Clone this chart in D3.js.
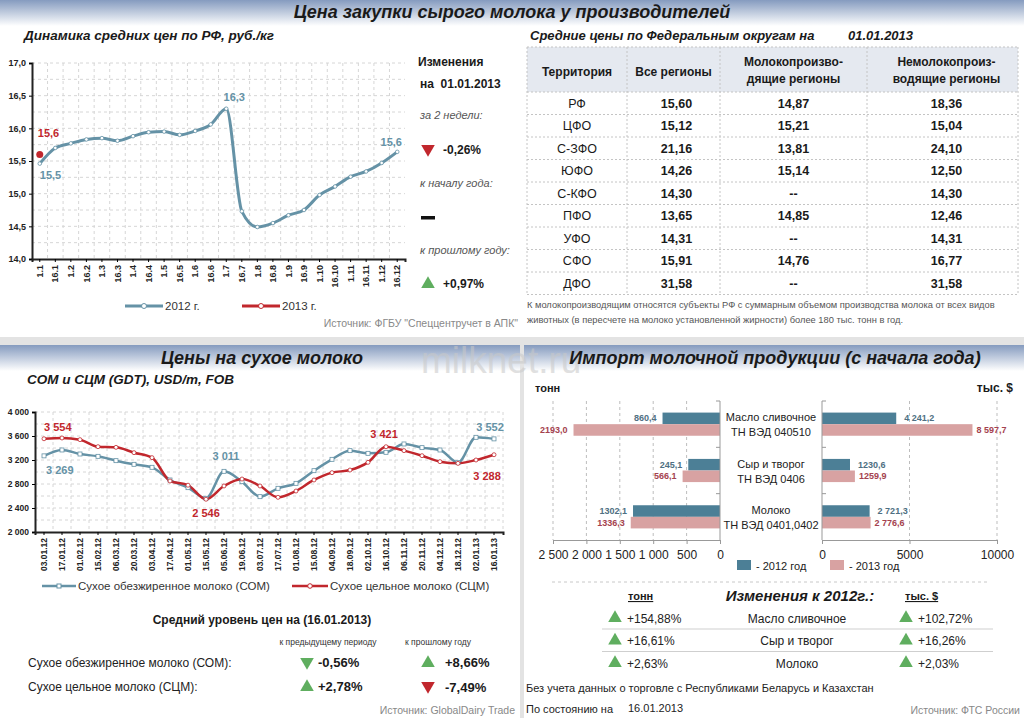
<!DOCTYPE html>
<html>
<head>
<meta charset="utf-8">
<script src="https://cdn.jsdelivr.net/npm/d3@7"></script>
<style>
  body { margin: 0; background: #fff; }
  svg text { font-family: "Liberation Sans", Arial, sans-serif; }
</style>
</head>
<body>
<div id="chart"></div>
<script>
// ===== DATA =====
// raw milk purchase price, RF average, rub/kg
const priceDates = ["1.1","16.1","1.2","16.2","1.3","16.3","1.4","16.4","1.5","16.5","1.6","16.6",
  "1.7","16.7","1.8","16.8","1.9","16.9","1.10","16.10","1.11","16.11","1.12","16.12"];
const price2012 = [15.46, 15.70, 15.77, 15.83, 15.85, 15.81, 15.88, 15.94, 15.95, 15.90, 15.96, 16.06,
  16.30, 14.73, 14.49, 14.55, 14.67, 14.75, 14.98, 15.11, 15.26, 15.34, 15.47, 15.64];
const price2013 = [15.6];
const priceTicks = [14.0, 14.5, 15.0, 15.5, 16.0, 16.5, 17.0];

// federal districts table
const districts = ["РФ","ЦФО","С-ЗФО","ЮФО","С-КФО","ПФО","УФО","СФО","ДФО"];
const allRegions = ["15,60","15,12","21,16","14,26","14,30","13,65","14,31","15,91","31,58"];
const milkRegions = ["14,87","15,21","13,81","15,14","--","14,85","--","14,76","--"];
const nonMilkRegions = ["18,36","15,04","24,10","12,50","14,30","12,46","14,31","16,77","31,58"];

// dry milk prices GDT, USD/t
const gdtDates = ["03.01.12","17.01.12","01.02.12","15.02.12","06.03.12","20.03.12","03.04.12","17.04.12",
  "01.05.12","15.05.12","05.06.12","19.06.12","03.07.12","17.07.12","01.08.12","15.08.12","04.09.12",
  "18.09.12","02.10.12","16.10.12","06.11.12","20.11.12","04.12.12","18.12.12","02.01.13","16.01.13"];
const somValues = [3269, 3367, 3300, 3261, 3189, 3128, 3078, 2867, 2739, 2561, 3011, 2839, 2589,
  2728, 2811, 3022, 3211, 3356, 3311, 3328, 3467, 3406, 3367, 3156, 3578, 3552];
const scmValues = [3554, 3567, 3539, 3422, 3411, 3322, 3239, 2850, 2780, 2546, 2767, 2883, 2767,
  2578, 2683, 2867, 2989, 3033, 3161, 3421, 3356, 3272, 3172, 3144, 3200, 3288];
const gdtTicks = [2000, 2400, 2800, 3200, 3600, 4000];

// dairy import since start of year
const importNames = ["Масло сливочное", "Сыр и творог", "Молоко"];
const importCodes = ["ТН ВЭД 040510", "ТН ВЭД 0406", "ТН ВЭД 0401,0402"];
const tons2012 = [860.4, 475, 1302.1];
const tons2013 = [2193.0, 560, 1336.3];
const usd2012 = [4241.2, 1600, 2721.3];
const usd2013 = [8597.7, 1880, 2776.6];
const tons2012Labels = ["860,4", "245,1", "1302,1"];
const tons2013Labels = ["2193,0", "566,1", "1336,3"];
const usd2012Labels = ["4 241,2", "1230,6", "2 721,3"];
const usd2013Labels = ["8 597,7", "1259,9", "2 776,6"];
const tonsTicks = [0, 500, 1000, 1500, 2000, 2500];
const usdTicks = [0, 5000, 10000];
const tonsChange = ["+154,88%", "+16,61%", "+2,63%"];
const usdChange = ["+102,72%", "+16,26%", "+2,03%"];

// ===== SETUP =====
const W = 1024, H = 718;
const BLUE = "#6592a6", RED = "#c1272d", GREEN = "#5fae5f";
const BAR_BLUE = "#4c7f96", BAR_PINK = "#d8a2a2";
const ru = d3.formatLocale({ decimal: ",", thousands: " ", grouping: [3], currency: ["", ""] });

const svg = d3.select("#chart").append("svg")
  .attr("width", W)
  .attr("height", H);

function txt(g, x, y, s, o = {}) {
  const t = g.append("text")
    .attr("x", x).attr("y", y)
    .text(s)
    .style("font-size", (o.size || 12) + "px")
    .style("fill", o.color || "#1a1a1a");
  if (o.bold) t.style("font-weight", "bold");
  if (o.italic) t.style("font-style", "italic");
  if (o.anchor) t.attr("text-anchor", o.anchor);
  return t;
}

function tri(g, x, y, up, color) {
  g.append("path")
    .attr("d", d3.symbol(d3.symbolTriangle, 80)())
    .attr("transform", `translate(${x},${y}) rotate(${up ? 0 : 180})`)
    .attr("fill", color);
}

// background bands
const defs = svg.append("defs");
const grad = defs.append("linearGradient")
  .attr("id", "band").attr("x1", 0).attr("y1", 0).attr("x2", 0).attr("y2", 1);
grad.append("stop").attr("offset", "0%").attr("stop-color", "#859bbf");
grad.append("stop").attr("offset", "100%").attr("stop-color", "#ffffff");

svg.append("rect").attr("x", 0).attr("y", 0).attr("width", W).attr("height", 26).attr("fill", "url(#band)");
svg.append("rect").attr("x", 0).attr("y", 337).attr("width", W).attr("height", 8).attr("fill", "#e3e3e3");
svg.append("rect").attr("x", 520).attr("y", 337).attr("width", 4).attr("height", H - 337).attr("fill", "#e3e3e3");
svg.append("rect").attr("x", 0).attr("y", 345).attr("width", 520).attr("height", 26).attr("fill", "url(#band)");
svg.append("rect").attr("x", 524).attr("y", 345).attr("width", 500).attr("height", 26).attr("fill", "url(#band)");

txt(svg, 512, 18, "Цена закупки сырого молока у производителей", { size: 18, bold: true, italic: true, anchor: "middle" });

// ===== TOP LEFT: PRICE LINE =====
const topG = svg.append("g");
txt(topG, 24, 40, "Динамика средних цен по РФ, руб./кг", { size: 13.5, bold: true, italic: true });

const xP = d3.scaleBand().domain(priceDates).range([32, 405]);
const yP = d3.scaleLinear().domain([14, 17]).range([259, 63]);
const cx = d => xP(d) + xP.bandwidth() / 2;

// grid
topG.append("g").selectAll("line")
  .data(d3.range(14.25, 17.01, 0.25))
  .enter().append("line")
  .attr("x1", 32).attr("x2", 405)
  .attr("y1", d => yP(d)).attr("y2", d => yP(d))
  .attr("stroke", "#d6d6d6").attr("stroke-dasharray", "3,3");
topG.append("g").selectAll("line")
  .data(priceDates.slice(1))
  .enter().append("line")
  .attr("x1", d => xP(d)).attr("x2", d => xP(d))
  .attr("y1", 63).attr("y2", 259)
  .attr("stroke", "#d6d6d6").attr("stroke-dasharray", "3,3");

const yAxP = topG.append("g")
  .attr("transform", "translate(32,0)")
  .call(d3.axisLeft(yP).tickValues(priceTicks).tickFormat(ru.format(".1f")).tickSize(3));
yAxP.select(".domain").attr("stroke", "#222").attr("stroke-width", 2);
yAxP.selectAll("text").style("font-size", "9px").style("font-weight", "bold").style("fill", "#222");

const xAxP = topG.append("g")
  .attr("transform", "translate(0,259)")
  .call(d3.axisBottom(xP).tickSize(3));
xAxP.select(".domain").attr("stroke", "#222").attr("stroke-width", 2);
xAxP.selectAll("text")
  .attr("transform", "rotate(-90)")
  .attr("text-anchor", "end")
  .attr("x", -6).attr("y", 0).attr("dy", "0.35em")
  .style("font-size", "9px").style("font-weight", "bold").style("fill", "#222");

const lineP = d3.line()
  .x((d, i) => cx(priceDates[i]))
  .y(d => yP(d))
  .curve(d3.curveMonotoneX);

topG.append("path")
  .datum(price2012)
  .attr("d", lineP)
  .attr("fill", "none")
  .attr("stroke", BLUE)
  .attr("stroke-width", 3);

topG.selectAll(".mk12")
  .data(price2012)
  .enter().append("circle")
  .attr("cx", (d, i) => cx(priceDates[i]))
  .attr("cy", d => yP(d))
  .attr("r", 1.8)
  .attr("fill", "#fff")
  .attr("stroke", BLUE)
  .attr("stroke-width", 0.8);

topG.selectAll(".mk13")
  .data(price2013)
  .enter().append("circle")
  .attr("cx", (d, i) => cx(priceDates[i]))
  .attr("cy", d => yP(d))
  .attr("r", 3.5)
  .attr("fill", RED);

// value labels
const fmt1 = ru.format(".1f");
const n = price2012.length - 1;
const peak = price2012.indexOf(d3.max(price2012));
txt(topG, cx(priceDates[0]) - 2, yP(price2013[0]) - 17, fmt1(price2013[0]), { size: 11, bold: true, color: RED });
txt(topG, cx(priceDates[0]), yP(price2012[0]) + 15, fmt1(price2012[0]), { size: 11, bold: true, color: BLUE });
txt(topG, cx(priceDates[peak]) + 8, yP(price2012[peak]) - 8, fmt1(price2012[peak]), { size: 11, bold: true, color: BLUE, anchor: "middle" });
txt(topG, cx(priceDates[n]) - 6, yP(price2012[n]) - 6, fmt1(price2012[n]), { size: 11, bold: true, color: BLUE, anchor: "middle" });

// legend
const legP = topG.append("g");
[[125, BLUE, "2012 г."], [242, RED, "2013 г."]].forEach(([x, c, label]) => {
  legP.append("line").attr("x1", x).attr("x2", x + 38).attr("y1", 306).attr("y2", 306)
    .attr("stroke", c).attr("stroke-width", 3);
  legP.append("circle").attr("cx", x + 19).attr("cy", 306).attr("r", 2.5)
    .attr("fill", "#fff").attr("stroke", c).attr("stroke-width", 1);
  txt(legP, x + 40, 310, label, { size: 11.5, color: "#333" });
});
txt(topG, 518, 327, "Источник: ФГБУ \"Спеццентручет в АПК\"", { size: 10.5, color: "#888", anchor: "end" });

// changes panel
const chg = svg.append("g");
txt(chg, 418, 66, "Изменения", { size: 12, bold: true });
txt(chg, 420, 88, "на\u00a0\u00a001.01.2013", { size: 12, bold: true });
txt(chg, 420, 119, "за 2 недели:", { size: 11, italic: true, color: "#555" });
tri(chg, 428, 149, false, RED);
txt(chg, 443, 154, "-0,26%", { size: 12, bold: true });
txt(chg, 420, 187, "к началу года:", { size: 11, italic: true, color: "#555" });
chg.append("rect").attr("x", 421).attr("y", 216).attr("width", 14).attr("height", 3.5).attr("fill", "#111");
txt(chg, 420, 254, "к прошлому году:", { size: 11, italic: true, color: "#555" });
tri(chg, 428, 284, true, GREEN);
txt(chg, 443, 288, "+0,97%", { size: 12, bold: true });

// ===== TOP RIGHT: DISTRICT TABLE =====
const tbl = svg.append("g");
txt(tbl, 530, 40, "Средние цены по Федеральным округам на", { size: 13, bold: true, italic: true });
txt(tbl, 848, 40, "01.01.2013", { size: 13, bold: true, italic: true });

const colEdges = [527, 627, 720, 867, 1018];
const colMid = colEdges.slice(0, 4).map((e, i) => (e + colEdges[i + 1]) / 2);
const rowTop = 92, rowH = 22.5, headTop = 47;
const yRow = d3.scaleBand().domain(districts).range([rowTop, rowTop + rowH * districts.length]);

tbl.append("rect").attr("x", 527).attr("y", headTop).attr("width", 491).attr("height", rowTop - headTop)
  .attr("fill", "#e5e9f0");

tbl.selectAll(".hl")
  .data([headTop, ...districts.map(d => yRow(d)), yRow.range()[1]])
  .enter().append("line")
  .attr("x1", 527).attr("x2", 1018)
  .attr("y1", d => d).attr("y2", d => d)
  .attr("stroke", "#c4c4c4").attr("stroke-dasharray", "2,2");
tbl.selectAll(".vl")
  .data(colEdges)
  .enter().append("line")
  .attr("x1", d => d).attr("x2", d => d)
  .attr("y1", headTop).attr("y2", yRow.range()[1])
  .attr("stroke", "#c4c4c4").attr("stroke-dasharray", "2,2");

txt(tbl, colMid[0], 76, "Территория", { size: 12, bold: true, anchor: "middle" });
txt(tbl, colMid[1], 76, "Все регионы", { size: 12, bold: true, anchor: "middle" });
txt(tbl, colMid[2], 66, "Молокопроизво-", { size: 12, bold: true, anchor: "middle" });
txt(tbl, colMid[2], 83, "дящие регионы", { size: 12, bold: true, anchor: "middle" });
txt(tbl, colMid[3] + 4, 66, "Немолокопроиз-", { size: 12, bold: true, anchor: "middle" });
txt(tbl, colMid[3] + 4, 83, "водящие регионы", { size: 12, bold: true, anchor: "middle" });

districts.forEach((d, i) => {
  const y = yRow(d) + rowH / 2 + 4.5;
  txt(tbl, colMid[0], y, d, { size: 12.5, anchor: "middle" });
  txt(tbl, colMid[1] + 3, y, allRegions[i], { size: 12.5, bold: true, anchor: "middle" });
  txt(tbl, colMid[2], y, milkRegions[i], { size: 12.5, bold: true, anchor: "middle" });
  txt(tbl, colMid[3] + 4, y, nonMilkRegions[i], { size: 12.5, bold: true, anchor: "middle" });
});
txt(tbl, 527, 308, "К молокопроизводящим относятся субъекты РФ с суммарным объемом производства молока от всех видов", { size: 9.3, color: "#555" });
txt(tbl, 527, 323, "животных (в пересчете на молоко установленной жирности) более 180 тыс. тонн в год.", { size: 9.3, color: "#555" });

// ===== BOTTOM LEFT: GDT PRICES =====
const gdt = svg.append("g");
txt(gdt, 262, 364, "Цены на сухое молоко", { size: 18, bold: true, italic: true, anchor: "middle" });
txt(gdt, 27, 384, "СОМ и СЦМ (GDT), USD/m, FOB", { size: 13.5, bold: true, italic: true });

const xG = d3.scaleBand().domain(gdtDates).range([35, 503]);
const yG = d3.scaleLinear().domain([2000, 4000]).range([532, 412]);
const gx = d => xG(d) + xG.bandwidth() / 2;

gdt.append("g").selectAll("line")
  .data(d3.range(2200, 4001, 200))
  .enter().append("line")
  .attr("x1", 35).attr("x2", 503)
  .attr("y1", d => yG(d)).attr("y2", d => yG(d))
  .attr("stroke", "#d6d6d6").attr("stroke-dasharray", "3,3");
gdt.append("g").selectAll("line")
  .data(gdtDates.slice(1).concat(["end"]))
  .enter().append("line")
  .attr("x1", d => d === "end" ? 503 : xG(d)).attr("x2", d => d === "end" ? 503 : xG(d))
  .attr("y1", 412).attr("y2", 532)
  .attr("stroke", "#d6d6d6").attr("stroke-dasharray", "3,3");

const yAxG = gdt.append("g")
  .attr("transform", "translate(35,0)")
  .call(d3.axisLeft(yG).tickValues(gdtTicks).tickFormat(ru.format(",")).tickSize(3));
yAxG.select(".domain").attr("stroke", "#222").attr("stroke-width", 2);
yAxG.selectAll("text").style("font-size", "8.5px").style("font-weight", "bold").style("fill", "#222");

const xAxG = gdt.append("g")
  .attr("transform", "translate(0,532)")
  .call(d3.axisBottom(xG).tickSize(3));
xAxG.select(".domain").attr("stroke", "#222").attr("stroke-width", 2);
xAxG.selectAll("text")
  .attr("transform", "rotate(-90)")
  .attr("text-anchor", "end")
  .attr("x", -6).attr("y", 0).attr("dy", "0.35em")
  .style("font-size", "8.5px").style("font-weight", "bold").style("fill", "#222");

const lineG = d3.line()
  .x((d, i) => gx(gdtDates[i]))
  .y(d => yG(d))
  .curve(d3.curveMonotoneX);

gdt.append("path").datum(somValues).attr("d", lineG)
  .attr("fill", "none").attr("stroke", BLUE).attr("stroke-width", 2.5);
gdt.append("path").datum(scmValues).attr("d", lineG)
  .attr("fill", "none").attr("stroke", RED).attr("stroke-width", 2.5);

gdt.selectAll(".mkSom")
  .data(somValues)
  .enter().append("rect")
  .attr("x", (d, i) => gx(gdtDates[i]) - 2)
  .attr("y", d => yG(d) - 2)
  .attr("width", 4).attr("height", 4)
  .attr("fill", "#fff").attr("stroke", BLUE).attr("stroke-width", 0.8);
gdt.selectAll(".mkScm")
  .data(scmValues)
  .enter().append("circle")
  .attr("cx", (d, i) => gx(gdtDates[i]))
  .attr("cy", d => yG(d))
  .attr("r", 2)
  .attr("fill", "#fff").attr("stroke", RED).attr("stroke-width", 0.8);

const fmtK = ru.format(",");
const last = somValues.length - 1;
const somPeak = 10, scmMin = scmValues.indexOf(d3.min(scmValues)), scmPeak = 19;
txt(gdt, gx(gdtDates[0]), yG(scmValues[0]) - 8, fmtK(scmValues[0]), { size: 11, bold: true, color: RED });
txt(gdt, gx(gdtDates[0]) + 2, yG(somValues[0]) + 18, fmtK(somValues[0]), { size: 11, bold: true, color: BLUE });
txt(gdt, gx(gdtDates[somPeak]) + 2, yG(somValues[somPeak]) - 11, fmtK(somValues[somPeak]), { size: 11, bold: true, color: BLUE, anchor: "middle" });
txt(gdt, gx(gdtDates[scmMin]), yG(scmValues[scmMin]) + 18, fmtK(scmValues[scmMin]), { size: 11, bold: true, color: RED, anchor: "middle" });
txt(gdt, gx(gdtDates[scmPeak]) - 2, yG(scmValues[scmPeak]) - 9, fmtK(scmValues[scmPeak]), { size: 11, bold: true, color: RED, anchor: "middle" });
txt(gdt, gx(gdtDates[last]) - 4, yG(somValues[last]) - 8, fmtK(somValues[last]), { size: 11, bold: true, color: BLUE, anchor: "middle" });
txt(gdt, gx(gdtDates[last]) - 7, yG(scmValues[last]) + 25, fmtK(scmValues[last]), { size: 11, bold: true, color: RED, anchor: "middle" });

// legend
const legG = gdt.append("g");
legG.append("line").attr("x1", 42).attr("x2", 76).attr("y1", 586).attr("y2", 586).attr("stroke", BLUE).attr("stroke-width", 2.5);
legG.append("rect").attr("x", 57).attr("y", 584).attr("width", 4).attr("height", 4).attr("fill", "#fff").attr("stroke", BLUE);
txt(legG, 78, 590, "Сухое обезжиренное молоко (СОМ)", { size: 11.5, color: "#333" });
legG.append("line").attr("x1", 292).attr("x2", 328).attr("y1", 586).attr("y2", 586).attr("stroke", RED).attr("stroke-width", 2.5);
legG.append("circle").attr("cx", 310).attr("cy", 586).attr("r", 2.3).attr("fill", "#fff").attr("stroke", RED);
txt(legG, 330, 590, "Сухое цельное молоко (СЦМ)", { size: 11.5, color: "#333" });

// summary
txt(gdt, 262, 624, "Средний уровень цен на (16.01.2013)", { size: 12, bold: true, anchor: "middle" });
txt(gdt, 328, 645, "к предыдущему периоду", { size: 8.5, color: "#333", anchor: "middle" });
txt(gdt, 438, 645, "к прошлому году", { size: 8.5, color: "#333", anchor: "middle" });
txt(gdt, 28, 667, "Сухое обезжиренное молоко (СОМ):", { size: 12, color: "#222" });
txt(gdt, 28, 691, "Сухое цельное молоко (СЦМ):", { size: 12, color: "#222" });
tri(gdt, 307, 662, false, GREEN);
txt(gdt, 318, 667, "-0,56%", { size: 13, bold: true });
tri(gdt, 428, 663, true, GREEN);
txt(gdt, 445, 667, "+8,66%", { size: 13, bold: true });
tri(gdt, 307, 687, true, GREEN);
txt(gdt, 318, 691, "+2,78%", { size: 13, bold: true });
tri(gdt, 428, 686, false, RED);
txt(gdt, 445, 692, "-7,49%", { size: 13, bold: true });
txt(gdt, 515, 714, "Источник: GlobalDairy Trade", { size: 10.5, color: "#888", anchor: "end" });

// watermark
svg.append("text")
  .attr("x", 421).attr("y", 373)
  .text("milknet.ru")
  .style("font-size", "37px")
  .style("fill", "#c8c8c8")
  .style("opacity", 0.55);

// ===== BOTTOM RIGHT: IMPORT BARS =====
const imp = svg.append("g");
txt(imp, 775, 364, "Импорт молочной продукции (с начала года)", { size: 18, bold: true, italic: true, anchor: "middle" });
txt(imp, 535, 392, "тонн", { size: 11, bold: true });
txt(imp, 1013, 392, "тыс. $", { size: 12, bold: true, anchor: "end" });

const xT = d3.scaleLinear().domain([0, 2500]).range([720, 553]);
const xU = d3.scaleLinear().domain([0, 10000]).range([822, 997]);
const yI = d3.scaleBand().domain(importNames).range([401, 540]);
const ySub = d3.scaleBand().domain([0, 1]).range([0, yI.bandwidth()]).paddingOuter(1);

// gridlines
imp.selectAll(".gT").data(tonsTicks.slice(1)).enter().append("line")
  .attr("x1", d => xT(d)).attr("x2", d => xT(d)).attr("y1", 401).attr("y2", 540)
  .attr("stroke", "#bdbdbd").attr("stroke-dasharray", "3,3");
imp.selectAll(".gU").data(usdTicks.slice(1)).enter().append("line")
  .attr("x1", d => xU(d)).attr("x2", d => xU(d)).attr("y1", 401).attr("y2", 540)
  .attr("stroke", "#bdbdbd").attr("stroke-dasharray", "3,3");

// bars
const bars = [
  [tons2012, xT, 0, BAR_BLUE], [tons2013, xT, 1, BAR_PINK],
  [usd2012, xU, 0, BAR_BLUE], [usd2013, xU, 1, BAR_PINK]
];
bars.forEach(([vals, sx, k, color]) => {
  imp.selectAll(null)
    .data(vals)
    .enter().append("rect")
    .attr("x", d => Math.min(sx(0), sx(d)))
    .attr("width", d => Math.abs(sx(d) - sx(0)))
    .attr("y", (d, i) => yI(importNames[i]) + ySub(k))
    .attr("height", ySub.bandwidth())
    .attr("fill", color);
});

// value labels
const barLabels = [
  [tons2012, tons2012Labels, xT, 0, "#4e6f82", "end", -6],
  [tons2013, tons2013Labels, xT, 1, "#a4424e", "end", -6],
  [usd2012, usd2012Labels, xU, 0, "#4e6f82", "start", 8],
  [usd2013, usd2013Labels, xU, 1, "#a4424e", "start", 4]
];
barLabels.forEach(([vals, labels, sx, k, color, anchor, dx]) => {
  vals.forEach((v, i) => {
    const y = yI(importNames[i]) + ySub(k) + ySub.bandwidth() / 2 + 3;
    txt(imp, sx(v) + dx, y, labels[i], { size: 9, bold: true, color: color, anchor: anchor });
  });
});

// axes
const axT = imp.append("g").attr("transform", "translate(0,540)")
  .call(d3.axisBottom(xT).tickValues(tonsTicks).tickFormat(ru.format(",")).tickSize(4));
const axU = imp.append("g").attr("transform", "translate(0,540)")
  .call(d3.axisBottom(xU).tickValues(usdTicks).tickFormat(d3.format("d")).tickSize(4));
[axT, axU].forEach(a => {
  a.selectAll("path, line").attr("stroke", "#999");
  a.selectAll("text").style("font-size", "12px").style("fill", "#222").attr("dy", "1em");
});
[[720, -4], [822, 4]].forEach(([x, dir]) => {
  imp.append("line").attr("x1", x).attr("x2", x).attr("y1", 401).attr("y2", 540).attr("stroke", "#999");
  imp.selectAll(null).data([401, 401 + yI.step(), 401 + 2 * yI.step()]).enter().append("line")
    .attr("x1", x).attr("x2", x + dir).attr("y1", d => d).attr("y2", d => d).attr("stroke", "#999");
});

// category labels
importNames.forEach((name, i) => {
  const c = yI(name) + yI.bandwidth() / 2;
  txt(imp, 771, c - 3, name, { size: 11, color: "#222", anchor: "middle" });
  txt(imp, 771, c + 12, importCodes[i], { size: 11, color: "#222", anchor: "middle" });
});

// legend
imp.append("rect").attr("x", 737).attr("y", 560).attr("width", 14).attr("height", 10).attr("fill", BAR_BLUE);
txt(imp, 756, 570, "- 2012 год", { size: 11, color: "#222" });
imp.append("rect").attr("x", 830).attr("y", 560).attr("width", 14).attr("height", 10).attr("fill", BAR_PINK);
txt(imp, 849, 570, "- 2013 год", { size: 11, color: "#222" });

// changes table
imp.append("line").attr("x1", 552).attr("x2", 990).attr("y1", 582).attr("y2", 582)
  .attr("stroke", "#c8c8c8").attr("stroke-dasharray", "3,3");
txt(imp, 628, 600, "тонн", { size: 11, bold: true }).style("text-decoration", "underline");
txt(imp, 800, 601, "Изменения к 2012г.:", { size: 15, bold: true, italic: true, anchor: "middle" });
txt(imp, 905, 600, "тыс. $", { size: 11, bold: true }).style("text-decoration", "underline");

importNames.forEach((name, i) => {
  const y = 618 + i * 22.5;
  tri(imp, 615, y, true, GREEN);
  txt(imp, 627, y + 4.5, tonsChange[i], { size: 12, color: "#222" });
  txt(imp, 797, y + 4.5, name, { size: 12, color: "#222", anchor: "middle" });
  tri(imp, 906, y, true, GREEN);
  txt(imp, 918, y + 4.5, usdChange[i], { size: 12, color: "#222" });
  if (i < 2) {
    imp.append("line").attr("x1", 602).attr("x2", 993).attr("y1", y + 11).attr("y2", y + 11)
      .attr("stroke", "#cfcfcf");
  }
});
txt(imp, 526, 692, "Без учета данных о торговле с Республиками Беларусь и Казахстан", { size: 11, color: "#222" });
txt(imp, 526, 713, "По состоянию на", { size: 11, color: "#222" });
txt(imp, 628, 712, "16.01.2013", { size: 11, color: "#222" });
txt(imp, 1020, 714, "Источник: ФТС России", { size: 10.5, color: "#888", anchor: "end" });
</script>
</body>
</html>
